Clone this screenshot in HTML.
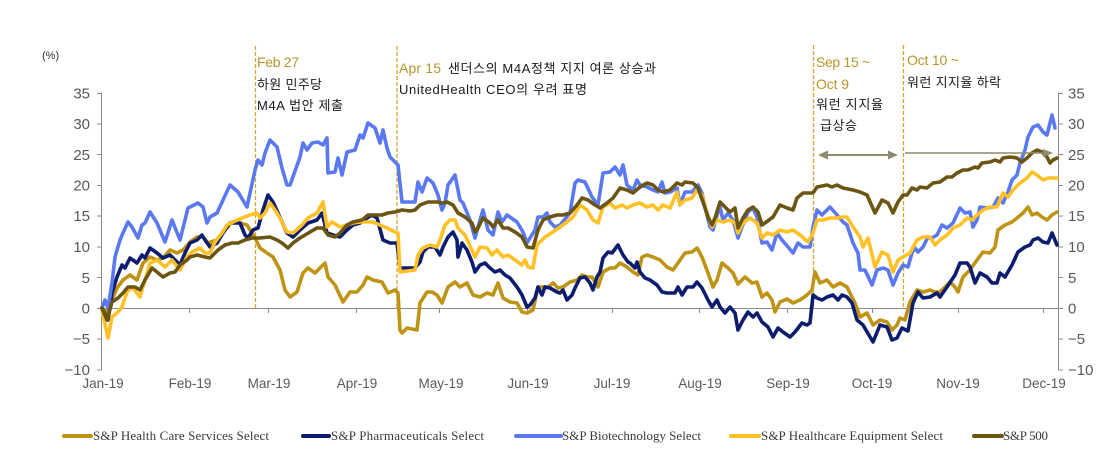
<!DOCTYPE html>
<html><head><meta charset="utf-8"><style>
html,body{margin:0;padding:0;background:#fff;}
svg{display:block;}
.ax{font-family:"Liberation Sans","Noto Sans CJK KR",sans-serif;fill:#595959;}
.an{font-family:"Liberation Sans","Noto Sans CJK KR",sans-serif;fill:#1a1a1a;font-size:13px;}
.dt{font-family:"Liberation Sans","Noto Sans CJK KR",sans-serif;fill:#B8942C;font-size:14px;}
.lg{font-family:"Liberation Serif",serif;fill:#3a3a3a;font-size:13px;}
</style></head><body>
<svg width="1112" height="455" viewBox="0 0 1112 455" xmlns="http://www.w3.org/2000/svg">
<rect width="1112" height="455" fill="#fff"/>
<text x="42" y="59" font-family="Liberation Sans,sans-serif" font-size="11" fill="#333">(%)</text>

<!-- axes -->
<g stroke="#8a8a8a" stroke-width="1" fill="none">
<line x1="101.5" y1="93" x2="101.5" y2="370"/>
<line x1="1058.5" y1="93" x2="1058.5" y2="370"/>
<line x1="101" y1="308.5" x2="1058" y2="308.5"/>
<path d="M97 93.5H101.5M97 124H101.5M97 154.5H101.5M97 185.5H101.5M97 216H101.5M97 247H101.5M97 277.5H101.5M97 308.5H101.5M97 339H101.5M97 370H101.5"/>
<path d="M1058.5 93.5H1063M1058.5 124H1063M1058.5 154.5H1063M1058.5 185.5H1063M1058.5 216H1063M1058.5 247H1063M1058.5 277.5H1063M1058.5 308.5H1063M1058.5 339H1063M1058.5 370H1063"/>
<path d="M189.5 308V313M268.5 308V313M356.5 308V313M439.5 308V313M527.5 308V313M612.5 308V313M699.5 308V313M787.5 308V313M872.5 308V313M958.5 308V313M1043.5 308V313"/>
</g>

<g class="ax" font-size="15" text-anchor="end">
<text x="90" y="98.5">35</text><text x="90" y="129">30</text><text x="90" y="160">25</text><text x="90" y="190.5">20</text><text x="90" y="221">15</text><text x="90" y="252">10</text><text x="90" y="283">5</text><text x="90" y="313.5">0</text><text x="90" y="344">−5</text><text x="90" y="375">−10</text>
</g>
<g class="ax" font-size="15" text-anchor="start">
<text x="1068" y="98.5">35</text><text x="1068" y="129">30</text><text x="1068" y="160">25</text><text x="1068" y="190.5">20</text><text x="1068" y="221">15</text><text x="1068" y="252">10</text><text x="1068" y="283">5</text><text x="1068" y="313.5">0</text><text x="1068" y="344">−5</text><text x="1068" y="375">−10</text>
</g>
<g class="ax" font-size="13.5" text-anchor="middle">
<text x="103" y="388">Jan-19</text><text x="190" y="388">Feb-19</text><text x="269" y="388">Mar-19</text><text x="357" y="388">Apr-19</text><text x="441" y="388">May-19</text><text x="528" y="388">Jun-19</text><text x="612" y="388">Jul-19</text><text x="700" y="388">Aug-19</text><text x="788" y="388">Sep-19</text><text x="872" y="388">Oct-19</text><text x="958" y="388">Nov-19</text><text x="1044" y="388">Dec-19</text>
</g>

<!-- dashed event lines -->
<g stroke="#D2A52C" stroke-width="1.3" stroke-dasharray="4 2" fill="none">
<line x1="255.5" y1="46" x2="255.5" y2="308"/>
<line x1="397" y1="46" x2="397" y2="308"/>
<line x1="813.5" y1="45" x2="813.5" y2="308"/>
<line x1="903.5" y1="45" x2="903.5" y2="308"/>
</g>

<!-- series -->
<g fill="none" stroke-width="3.6" stroke-linejoin="round" stroke-linecap="round">
<polyline stroke="#BF9313" points="102,308 108,313 112,300 117,288 123,280 130,275 137,280 143,263 150,257 157,260 163,258 170,250 177,253 183,250 190,242 197,237 203,237 208,243 217,240 223,232 232,222 240,223 247,225 255,238 260,248 267,253 273,257 280,270 285,290 290,297 297,292 303,273 308,268 315,273 320,268 325,263 328,277 335,285 343,302 350,292 357,292 363,285 367,277 373,280 382,282 388,293 395,290 398,293 400,330 402,333 407,328 417,330 420,303 427,292 432,292 437,295 442,303 448,287 455,282 460,287 467,283 473,295 480,297 487,293 493,295 498,283 503,298 510,302 517,303 522,312 527,313 533,310 538,287 543,287 548,287 553,283 558,288 563,287 570,282 577,280 582,275 587,277 592,277 598,287 603,272 610,268 615,268 620,263 627,267 633,272 638,275 642,257 647,255 653,257 660,260 667,267 673,270 678,263 685,253 692,252 697,248 702,257 708,273 713,287 717,280 722,263 728,268 733,273 738,284 745,277 752,283 757,282 762,297 767,293 772,300 775,312 780,302 787,299 793,303 800,300 807,295 812,290 815,272 820,283 827,280 833,287 840,283 847,287 855,303 860,317 867,313 873,325 880,320 887,322 892,330 897,325 900,318 905,320 910,302 917,290 923,292 930,290 935,292 940,292 945,287 950,282 955,287 958,292 963,277 970,270 977,260 983,252 990,253 995,247 998,230 1005,225 1012,222 1017,218 1023,213 1028,207 1032,215 1037,213 1042,217 1047,220 1052,215 1057,212"/>
<polyline stroke="#0C1C6E" points="102,308 108,320 112,293 117,277 122,265 125,268 130,258 137,263 142,255 145,258 150,248 157,253 163,258 170,255 175,260 180,265 185,253 190,243 197,240 202,235 205,240 210,247 217,243 223,233 230,223 240,223 245,235 248,238 253,230 258,228 263,210 268,195 273,202 278,213 287,233 293,237 300,230 308,223 317,220 322,213 327,233 333,235 340,237 347,230 353,225 360,223 367,218 372,215 377,218 383,240 390,243 397,243 400,268 415,268 420,262 423,252 428,247 435,247 440,255 443,247 448,237 453,232 457,240 458,257 462,243 467,250 472,262 475,272 480,265 485,263 490,268 495,272 500,270 505,275 510,278 517,287 522,295 527,307 530,305 535,298 538,287 542,295 545,287 550,288 557,292 560,293 563,290 567,300 572,295 575,288 580,278 585,277 590,283 593,290 597,277 600,272 603,258 608,252 612,253 618,245 623,255 628,262 630,263 635,268 637,262 640,272 645,278 650,280 657,285 662,292 667,293 675,293 678,287 682,295 687,287 693,287 697,282 702,288 708,300 712,307 717,300 720,307 725,313 730,307 735,313 738,330 743,320 748,312 753,317 757,313 762,322 768,327 773,337 778,328 783,332 790,337 795,332 802,323 807,325 810,323 813,295 817,298 822,300 827,297 833,295 838,300 842,295 847,297 852,303 857,320 863,325 873,342 880,325 887,327 892,340 897,338 902,328 908,331 913,303 918,292 923,298 930,297 937,293 940,297 947,287 955,275 960,263 967,263 970,267 975,283 980,273 987,277 992,283 997,283 1000,273 1005,277 1012,265 1018,252 1025,247 1030,245 1033,240 1038,238 1043,242 1048,243 1052,233 1057,245"/>
<polyline stroke="#5A78F0" points="102,308 105,300 108,308 112,283 115,257 120,240 123,233 128,222 132,227 138,238 142,225 145,223 150,212 157,223 165,242 172,220 180,240 188,208 198,203 203,207 207,223 210,217 217,213 223,200 230,185 238,192 247,207 255,170 258,160 262,165 265,153 270,140 277,147 282,168 287,185 290,185 300,157 303,143 307,150 312,143 318,142 323,145 327,138 328,173 335,172 338,158 342,175 347,152 355,150 360,135 363,138 368,123 375,128 380,143 383,130 387,148 390,157 398,165 402,202 415,202 418,182 422,192 427,178 433,183 438,195 442,210 445,203 448,185 455,175 460,200 463,203 470,220 475,238 478,227 483,210 488,230 493,235 498,212 502,222 507,215 517,222 523,232 527,243 530,238 535,230 538,217 543,217 547,213 550,222 555,227 560,225 570,213 575,183 578,180 585,182 592,197 598,205 603,173 610,172 615,167 620,175 623,165 627,185 633,190 637,180 640,185 647,187 653,190 658,192 662,182 665,193 670,192 677,188 680,205 685,192 692,192 698,185 702,193 705,207 710,227 713,230 717,215 720,207 723,220 728,213 733,220 738,238 742,227 748,212 753,208 757,217 762,243 767,242 772,250 777,233 782,240 788,247 793,253 798,243 803,247 810,247 813,227 817,210 822,215 830,207 837,215 843,222 847,225 853,243 858,253 860,270 865,270 872,285 877,270 883,268 888,270 893,285 898,273 903,265 908,267 912,253 915,248 918,252 923,247 928,237 932,238 937,235 942,225 947,228 953,223 960,208 965,213 970,212 973,227 977,220 980,207 987,208 993,207 998,198 1003,203 1008,192 1012,180 1017,175 1020,163 1025,150 1028,137 1033,127 1038,125 1043,132 1047,135 1052,115 1055,128"/>
<polyline stroke="#FFC125" points="102,310 108,338 112,317 117,313 122,307 127,292 132,287 140,297 145,280 150,263 157,260 165,267 172,260 180,270 187,257 192,252 200,248 205,253 210,253 215,242 222,233 227,225 233,222 242,218 250,215 257,213 260,218 265,213 270,203 275,210 280,218 287,232 293,233 302,225 308,218 317,213 323,202 327,227 332,222 340,227 347,225 353,223 360,222 367,222 373,222 380,225 387,228 395,232 398,233 400,272 415,270 418,255 423,248 430,245 437,247 440,240 445,225 450,220 455,220 458,228 465,235 475,257 480,247 487,248 492,255 497,250 503,257 508,255 515,260 522,265 525,260 528,267 533,268 537,245 545,237 553,232 560,227 567,222 573,217 580,205 587,210 593,220 598,223 603,207 610,203 615,208 622,205 627,208 633,205 640,203 647,207 653,205 658,210 663,205 670,208 677,192 680,205 685,200 692,198 697,190 702,195 707,213 712,227 717,220 723,222 730,220 735,223 738,233 743,223 750,218 757,223 762,238 767,233 773,235 780,230 787,232 793,230 800,235 808,242 813,233 817,220 823,220 830,218 837,218 843,217 847,217 853,227 860,237 863,247 868,238 875,267 882,252 888,255 893,272 898,260 903,257 910,253 917,240 923,237 930,237 935,245 940,240 947,235 953,228 960,225 967,218 972,220 977,215 983,210 990,207 997,207 1003,193 1008,197 1013,190 1020,183 1027,178 1032,172 1037,175 1043,180 1048,178 1053,178 1057,178"/>
<polyline stroke="#6B5512" points="102,308 107,320 112,302 118,298 123,293 128,287 135,287 140,290 145,280 152,268 157,272 163,277 170,273 175,272 180,265 187,260 190,257 197,255 205,257 210,258 218,250 225,245 232,243 238,243 245,240 252,238 260,238 270,237 277,240 282,243 288,248 293,243 300,238 310,232 317,228 323,228 328,235 335,237 340,233 347,225 353,222 362,220 368,215 375,215 382,215 388,213 395,212 402,210 410,211 415,210 420,205 428,202 437,202 442,203 447,202 453,205 458,213 465,217 472,223 475,232 478,228 483,218 490,223 493,227 498,220 503,228 508,228 515,232 522,237 527,247 533,248 538,230 543,220 550,217 557,215 563,215 570,213 577,205 582,198 588,200 595,205 600,208 607,203 613,198 620,188 627,190 633,193 640,187 647,183 653,185 658,190 663,192 670,190 677,183 682,185 685,182 693,183 698,188 703,202 708,217 712,225 715,218 720,202 725,207 730,212 735,208 738,228 743,218 748,210 753,207 758,212 762,225 765,223 773,217 780,205 787,208 793,210 797,198 803,193 813,193 817,187 827,185 832,187 837,185 843,188 853,190 860,192 867,195 875,213 882,200 888,203 893,213 898,202 903,195 907,195 912,188 917,190 920,187 927,188 933,183 940,182 947,177 952,177 957,173 963,170 968,170 975,167 978,168 982,163 990,162 995,160 1000,162 1003,158 1010,157 1017,158 1022,162 1027,158 1032,153 1037,150 1042,152 1047,157 1050,163 1053,160 1057,158"/>
</g>

<!-- arrows -->
<g stroke="#8C8B6E" fill="#8C8B6E">
<line x1="826" y1="155" x2="890" y2="155" stroke-width="2"/>
<polygon points="818,155 828,150.5 828,159.5" stroke="none"/>
<polygon points="898,155 888,150.5 888,159.5" stroke="none"/>
<line x1="905" y1="153" x2="1045" y2="153" stroke-width="1.4"/>
<polygon points="1053,153 1043,149 1043,157" stroke="none"/>
</g>

<!-- annotations -->
<text class="dt" x="257" y="67" textLength="42">Feb 27</text>
<text class="an" x="257" y="89" textLength="65">하원 민주당</text>
<text class="an" x="257" y="110" textLength="86">M4A 법안 제출</text>

<text class="dt" x="399" y="73" textLength="42">Apr 15</text>
<text class="an" x="448" y="73" textLength="208">샌더스의 M4A정책 지지 여론 상승과</text>
<text class="an" x="399" y="94" textLength="188">UnitedHealth CEO의 우려 표명</text>

<text class="dt" x="816" y="67" textLength="54">Sep 15 ~</text>
<text class="dt" x="816" y="89" textLength="33">Oct 9</text>
<text class="an" x="816" y="109" textLength="67">워런 지지율</text>
<text class="an" x="820" y="130" textLength="37">급상승</text>

<text class="dt" x="907" y="65" textLength="52">Oct 10 ~</text>
<text class="an" x="907" y="87" textLength="94">워런 지지율 하락</text>

<!-- legend -->
<g stroke-width="4" stroke-linecap="round">
<line x1="64" y1="436" x2="91" y2="436" stroke="#BF9313"/>
<line x1="303" y1="436" x2="329" y2="436" stroke="#0C1C6E"/>
<line x1="516" y1="436" x2="561" y2="436" stroke="#5A78F0"/>
<line x1="731" y1="436" x2="759" y2="436" stroke="#FFC125"/>
<line x1="974" y1="436" x2="1002" y2="436" stroke="#6B5512"/>
</g>
<text class="lg" x="93" y="440" textLength="176">S&amp;P Health Care Services Select</text>
<text class="lg" x="331" y="440" textLength="153">S&amp;P Pharmaceuticals Select</text>
<text class="lg" x="562" y="440" textLength="139">S&amp;P Biotechnology Select</text>
<text class="lg" x="761" y="440" textLength="182">S&amp;P Healthcare Equipment Select</text>
<text class="lg" x="1003" y="440" textLength="45">S&amp;P 500</text>
</svg>
</body></html>
